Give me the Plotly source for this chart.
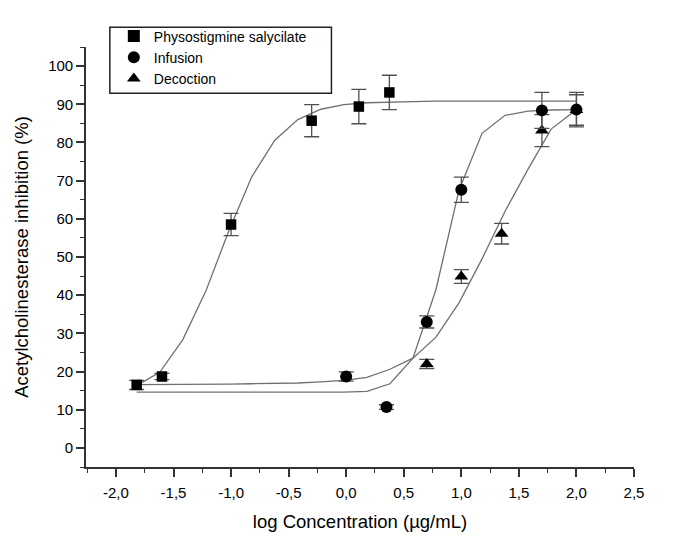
import plotly.graph_objects as go

# ---- data ----
physo_x = [-1.82, -1.60, -1.00, -0.30, 0.11, 0.375]
physo_y = [16.5, 18.7, 58.5, 85.7, 89.4, 93.1]
physo_err = [1.2, 0.8, 2.9, 4.2, 4.5, 4.5]

infusion_x = [0.0, 0.35, 0.70, 1.00, 1.70, 2.00]
infusion_y = [18.7, 10.7, 33.0, 67.6, 88.4, 88.6]
infusion_err = [1.2, 0.6, 1.6, 3.3, 4.7, 4.5]

decoction_x = [0.70, 1.00, 1.35, 1.70, 2.00]
decoction_y = [22.0, 44.9, 56.1, 83.1, 88.5]
decoction_err = [1.2, 1.8, 2.7, 4.2, 4.0]

curve_x = [-1.82, -1.62, -1.42, -1.22, -1.02, -0.82, -0.62, -0.42, -0.22, -0.02,
           0.18, 0.38, 0.58, 0.78, 0.98, 1.18, 1.38, 1.58, 1.78, 1.98, 2.0]
physo_fit = [16.3, 19.8, 28.3, 41.0, 56.8, 71.0, 80.6, 86.0, 88.7, 89.9,
             90.4, 90.6, 90.7, 90.8, 90.8, 90.8, 90.8, 90.8, 90.8, 90.8, 90.8]
infusion_fit = [14.6, 14.6, 14.6, 14.6, 14.6, 14.6, 14.6, 14.6, 14.6, 14.6,
                14.8, 16.8, 23.5, 41.5, 67.5, 82.4, 87.1, 88.2, 88.5, 88.6, 88.6]
decoction_fit = [16.6, 16.6, 16.6, 16.7, 16.7, 16.8, 16.9, 17.0, 17.3, 17.7,
                 18.5, 20.6, 23.5, 29.0, 38.0, 49.5, 62.0, 73.0, 83.5, 88.3, 88.6]

x_ticks = [-2.0, -1.5, -1.0, -0.5, 0.0, 0.5, 1.0, 1.5, 2.0, 2.5]
x_ticktext = ["-2,0", "-1,5", "-1,0", "-0,5", "0,0", "0,5", "1,0", "1,5", "2,0", "2,5"]
y_ticks = [0, 10, 20, 30, 40, 50, 60, 70, 80, 90, 100]

FONT = "Liberation Sans, Arial, sans-serif"
TXT = "#000000"
LINE = "#707070"
ERR = "#505050"
AX = "#333333"

# plot area in pixels
L, R, T, B = 75, 46.5, 32, 88.5
W, H = 673, 548
PW, PH = W - L - R, H - T - B

fig = go.Figure()

for fy in [physo_fit, infusion_fit, decoction_fit]:
    fig.add_trace(go.Scatter(x=curve_x, y=fy, mode="lines",
                             line=dict(color=LINE, width=1.3),
                             showlegend=False, hoverinfo="skip"))

def pts(name, x, y, e, symbol, size, rank):
    return go.Scatter(
        x=x, y=y, mode="markers", name=name, legendrank=rank,
        marker=dict(symbol=symbol, size=size, color="black"),
        error_y=dict(type="data", array=e, visible=True, color=ERR,
                     thickness=1.3, width=7.5),
    )

fig.add_trace(pts("Physostigmine salycilate", physo_x, physo_y, physo_err, "square", 10.5, 1))
fig.add_trace(pts("Decoction", decoction_x, decoction_y, decoction_err, "triangle-up", 12, 3))
fig.add_trace(pts("Infusion", infusion_x, infusion_y, infusion_err, "circle", 12, 2))

fig.update_layout(
    width=W, height=H,
    margin=dict(l=L, r=R, t=T, b=B),
    paper_bgcolor="white", plot_bgcolor="white",
    font=dict(family=FONT, size=15, color=TXT),
    showlegend=True,
    legend=dict(x=(103 - L) / PW, y=1 + (T - 5) / PH, xanchor="left", yanchor="top",
                bgcolor="rgba(0,0,0,0)", borderwidth=0,
                traceorder="normal", tracegroupgap=0,
                font=dict(family=FONT, size=14, color=TXT),
                itemsizing="constant"),
    shapes=[dict(type="rect", xref="paper", yref="paper",
                 x0=(99 - L) / PW, x1=(322 - L) / PW,
                 y0=1 + (T - 79) / PH, y1=1 + (T - 12) / PH,
                 line=dict(color="#222", width=1.5), fillcolor="rgba(0,0,0,0)")],
)

fig.update_xaxes(
    range=[-2.26, 2.5], showgrid=False, zeroline=False,
    showline=True, linecolor=AX, linewidth=1.6,
    tickmode="array", tickvals=x_ticks, ticktext=x_ticktext,
    ticks="outside", ticklen=8, tickwidth=1.5, tickcolor=AX,
    ticklabelstandoff=3,
    minor=dict(dtick=0.25, tick0=0, ticks="outside", ticklen=4, tickwidth=1.3, tickcolor=AX, showgrid=False),
    tickfont=dict(family=FONT, size=15, color=TXT),
    title=dict(text="log Concentration (µg/mL)", font=dict(family=FONT, size=18.5, color=TXT), standoff=15),
)
fig.update_yaxes(
    range=[-5, 105], showgrid=False, zeroline=False,
    showline=True, linecolor=AX, linewidth=1.6,
    tickmode="array", tickvals=y_ticks,
    ticks="outside", ticklen=8, tickwidth=1.5, tickcolor=AX,
    minor=dict(dtick=5, tick0=0, ticks="outside", ticklen=4, tickwidth=1.3, tickcolor=AX, showgrid=False),
    tickfont=dict(family=FONT, size=15, color=TXT),
    title=dict(text="Acetylcholinesterase inhibition (%)", font=dict(family=FONT, size=18.5, color=TXT), standoff=15),
)

fig.write_html("out.html")
